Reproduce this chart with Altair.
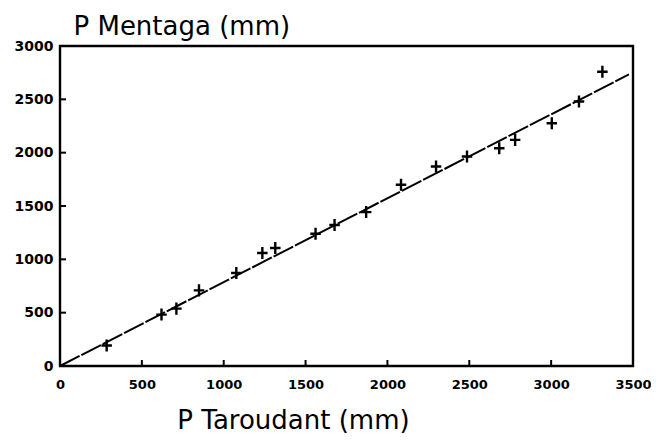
import altair as alt
import pandas as pd

# Data
x_taroudant = [285, 620, 711, 849, 1077, 1236, 1315, 1561, 1677, 1870,
               2083, 2297, 2486, 2683, 2780, 3004, 3170, 3313]
y_mentaga = [192, 482, 538, 709, 872, 1060, 1106, 1240, 1322, 1443,
             1699, 1870, 1964, 2042, 2120, 2276, 2479, 2759]
fit_x = [0, 3475]
fit_y = [0, 2733]
x_ticks = [0, 500, 1000, 1500, 2000, 2500, 3000, 3500]
y_ticks = [0, 500, 1000, 1500, 2000, 2500, 3000]

W, H = 573, 320
FONT = "DejaVu Sans"

pts = pd.DataFrame({"x": x_taroudant, "y": y_mentaga})
fit = pd.DataFrame({"x": fit_x, "y": fit_y})
xt = pd.DataFrame({"v": x_ticks})
yt = pd.DataFrame({"v": y_ticks})

xscale = alt.Scale(domain=[0, 3500], nice=False, zero=False)
yscale = alt.Scale(domain=[0, 3000], nice=False, zero=False)

xaxis = alt.Axis(
    values=x_ticks, format="d", ticks=False, domain=False, grid=False,
    labelFont=FONT, labelFontSize=13, labelFontWeight="bold", labelColor="black",
    labelPadding=12, labelFlush=False, labelOverlap=False,
    title="P Taroudant (mm)", titleFont=FONT, titleFontSize=26,
    titleFontWeight="normal", titleColor="black",
    titleX=233, titleY=62, titleAlign="center", titleBaseline="alphabetic",
)
yaxis = alt.Axis(
    values=y_ticks, format="d", ticks=False, domain=False, grid=False,
    labelFont=FONT, labelFontSize=14, labelFontWeight="bold", labelColor="black",
    labelPadding=7, labelFlush=False, labelOverlap=False,
    title="P Mentaga (mm)", titleFont=FONT, titleFontSize=26,
    titleFontWeight="normal", titleColor="black", titleAngle=0,
    titleX=13, titleY=-12, titleAlign="left", titleBaseline="alphabetic",
)

points = alt.Chart(pts).mark_point(
    shape="M-1,0L1,0M0,-1.15L0,1.15", size=110, stroke="black",
    strokeWidth=2.4, filled=False, opacity=1,
).encode(
    x=alt.X("x:Q", scale=xscale, axis=xaxis),
    y=alt.Y("y:Q", scale=yscale, axis=yaxis),
)

line = alt.Chart(fit).mark_line(
    color="black", strokeWidth=2, strokeDash=[22, 2]
).encode(x=alt.X("x:Q", scale=xscale), y=alt.Y("y:Q", scale=yscale))

xticks = alt.Chart(xt).mark_rule(color="black", strokeWidth=2).encode(
    x=alt.X("v:Q", scale=xscale), y=alt.value(H), y2=alt.value(H - 6)
)
yticks = alt.Chart(yt).mark_rule(color="black", strokeWidth=2).encode(
    y=alt.Y("v:Q", scale=yscale), x=alt.value(0), x2=alt.value(6)
)

chart = alt.layer(line, points, xticks, yticks).properties(
    width=W, height=H,
    autosize=alt.AutoSizeParams(type="none"),
    padding={"left": 52, "top": 38, "right": 18, "bottom": 69},
).configure(
    background="white",
    view=alt.ViewConfig(stroke="black", strokeWidth=2.4, strokeOpacity=1),
)

chart.save("out.html", embed_options={"renderer": "svg", "actions": False})
